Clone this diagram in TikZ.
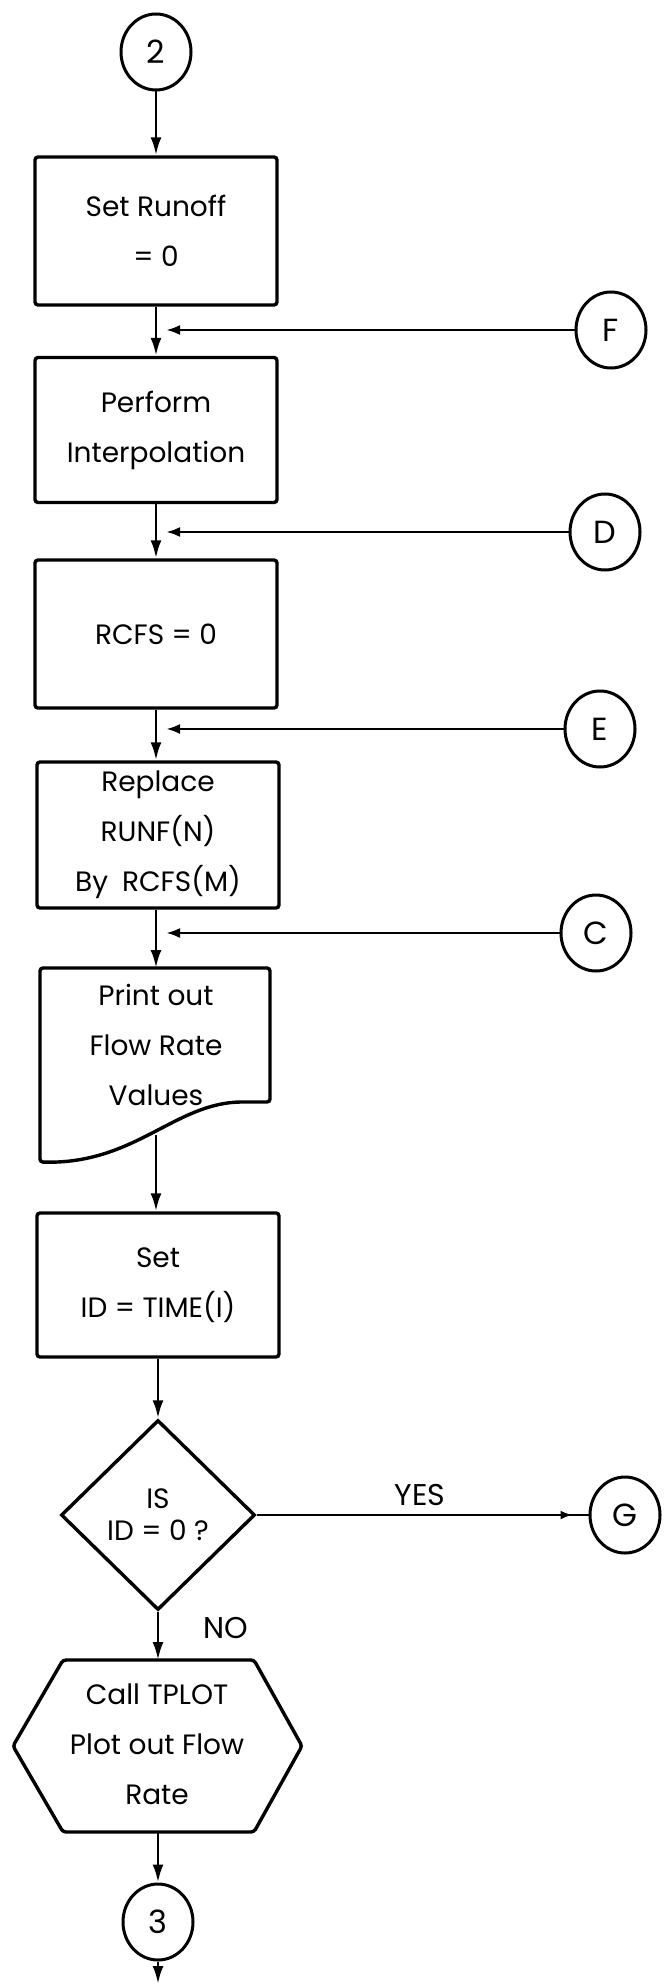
\documentclass[tikz,border=0pt]{standalone}
\usepackage{fontspec}
\setmainfont{Poppins}
\usetikzlibrary{shapes.geometric,arrows.meta,decorations.markings}
\begin{document}
\begin{tikzpicture}[x=0.5pt,y=-0.5pt,
  box/.style={draw,line width=1.7pt,rounded corners=1.5pt,minimum width=121pt,inner sep=0pt,align=center,font=\fontsize{14}{25}\selectfont},
  txt/.style={align=center,inner sep=0pt,font=\fontsize{14}{25}\selectfont},
  conn/.style={draw,ellipse,line width=1.5pt,minimum width=35pt,minimum height=38pt,inner sep=0pt,font=\fontsize{16}{18}\selectfont},
  outline/.style={line width=1.7pt,rounded corners=1.5pt},
  flow/.style={line width=1.4pt,-{Latex[length=9pt,width=5.5pt]}},
  sidein/.style={line width=1.4pt,-{Latex[length=7pt,width=5pt]},shorten >=5pt},
  yesline/.style={line width=1.3pt,postaction={decorate},
    decoration={markings,mark=at position -8pt with {\arrow{Latex[open,length=6pt,width=4.5pt]}}}},
  lbl/.style={inner sep=0pt,font=\fontsize{15}{18}\selectfont}]
\useasboundingbox (0,0) rectangle (668,1984);

\node[conn] (c2) at (156,52) {2};
\node[box,minimum height=74pt] (runoff) at (156,231) {Set Runoff\\= 0};
\node[conn] (cF) at (611,330) {F};
\node[box,minimum height=72.5pt] (interp) at (156,430) {Perform\\Interpolation};
\node[conn] (cD) at (605,532) {D};
\node[box,minimum height=74pt] (rcfs) at (156,634) {RCFS = 0};
\node[conn] (cE) at (600,729) {E};
\node[box,minimum height=73pt] (replace) at (158,835) {Replace\\RUNF(N)\\By\enspace RCFS(M)};
\node[conn] (cC) at (596,933) {C};

\draw[outline] (40,1162) -- (40,968) -- (270,968) -- (270,1102) -- (245,1102)
  .. controls (175,1102) and (135,1165) .. (40,1162) -- cycle;
\node[txt] (print) at (156,1045) {Print out\\Flow Rate\\Values};
\coordinate (doctop) at (156,968);
\coordinate (docbot) at (156,1135);

\node[box,minimum height=72pt] (setid) at (158,1285) {Set\\ID = TIME(I)};
\node[draw,diamond,line width=1.7pt,minimum width=97pt,minimum height=95pt,inner sep=0pt,
  align=center,font=\fontsize{14}{16}\selectfont] (isid) at (158,1515) {IS\\ID = 0 ?};
\node[conn] (cG) at (625,1515) {G};
\node[lbl] (yes) at (420,1495) {YES};
\node[lbl] (no) at (226,1628) {NO};

\draw[outline] (13,1746) -- (63,1660) -- (254,1660) -- (302,1746) -- (254,1832) -- (63,1832) -- cycle;
\node[txt] (tplot) at (157,1744) {Call TPLOT\\Plot out Flow\\Rate};
\coordinate (hextop) at (158,1660);
\coordinate (hexbot) at (158,1832);
\node[conn] (c3) at (158,1922) {3};
\coordinate (out) at (158,1984);

\draw[flow] (c2) -- (runoff);
\draw[flow] (runoff) -- (interp);
\draw[sidein] (cF) -- (cF -| runoff);
\draw[flow] (interp) -- (rcfs);
\draw[sidein] (cD) -- (cD -| interp);
\draw[flow] (rcfs) -- (rcfs |- replace.north);
\draw[sidein] (cE) -- (cE -| rcfs);
\draw[flow] (replace.south -| rcfs) -- (doctop);
\draw[sidein] (cC) -- (cC -| rcfs);
\draw[flow] (docbot) -- (docbot |- setid.north);
\draw[flow] (setid) -- (isid);
\draw[yesline] (isid) -- (cG);
\draw[flow] (isid) -- (hextop);
\draw[flow] (hexbot) -- (c3);
\draw[flow] (c3) -- (out);
\end{tikzpicture}
\end{document}
